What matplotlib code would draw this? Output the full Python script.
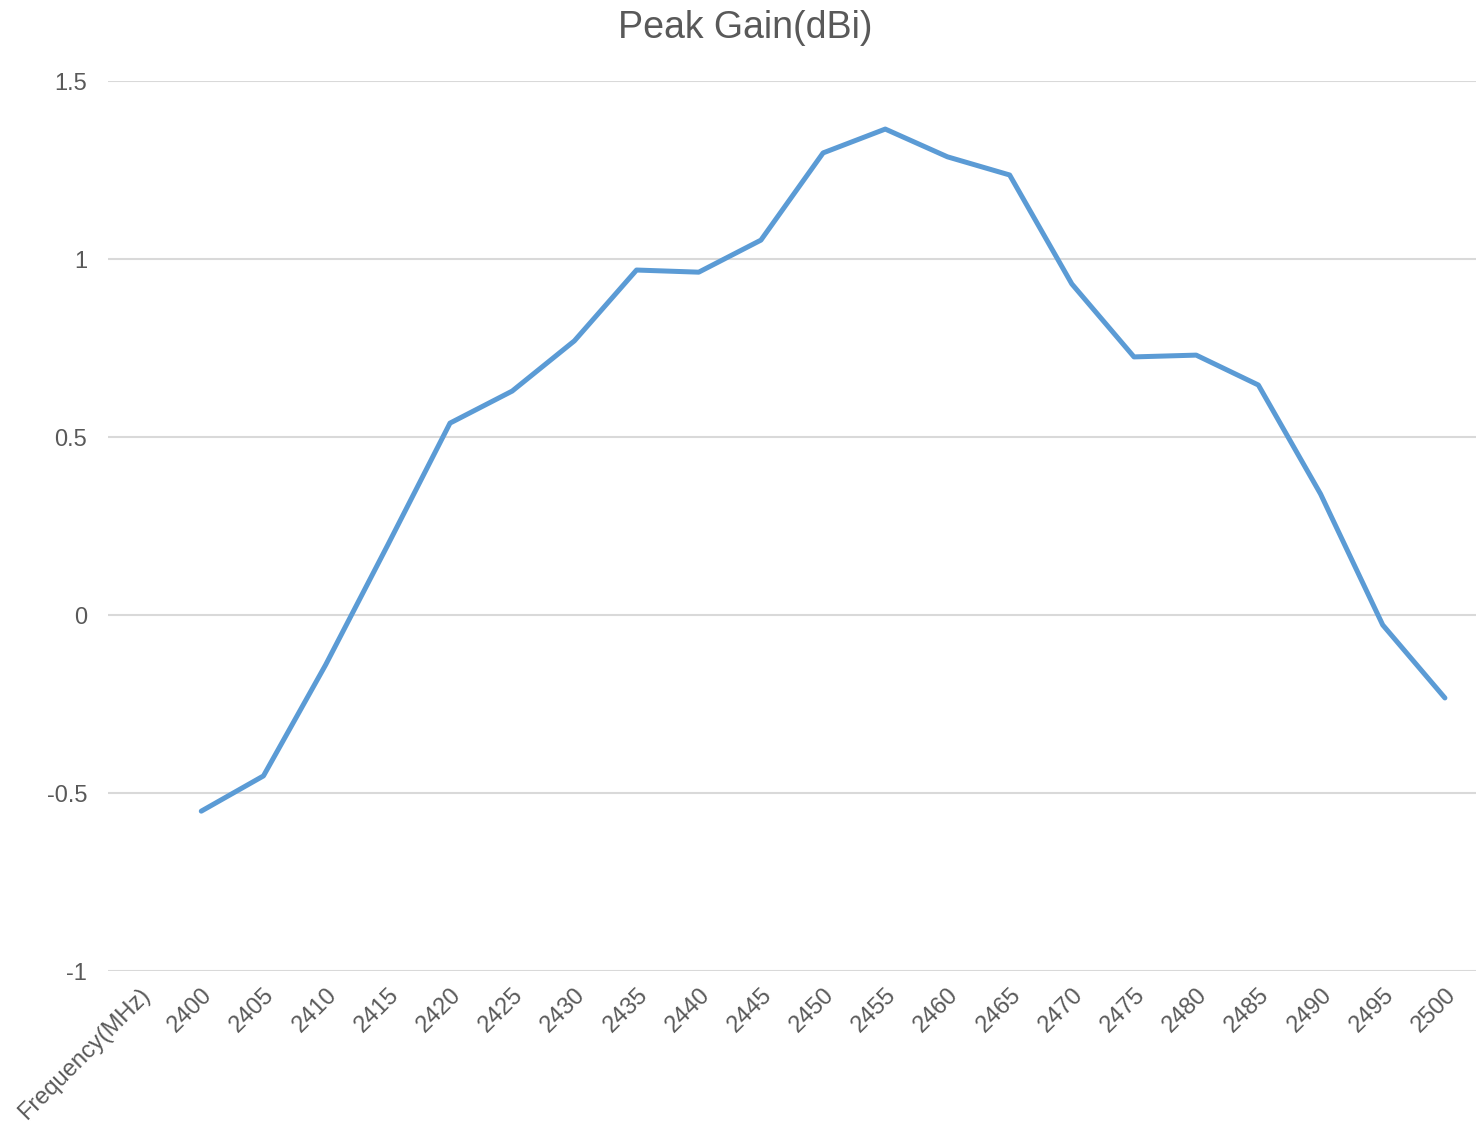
import matplotlib.pyplot as plt
import numpy as np

# Peak gain vs frequency, Excel-style line chart

categories = ["Frequency(MHz)", "2400", "2405", "2410", "2415", "2420", "2425",
              "2430", "2435", "2440", "2445", "2450", "2455", "2460", "2465",
              "2470", "2475", "2480", "2485", "2490", "2495", "2500"]
gain = [np.nan, -0.551, -0.452, -0.140, 0.197, 0.539, 0.629, 0.770, 0.969,
        0.963, 1.053, 1.298, 1.365, 1.287, 1.236, 0.930, 0.725, 0.730,
        0.646, 0.340, -0.028, -0.233]
yticks = [-1, -0.5, 0, 0.5, 1, 1.5]
ylabels = ["-1", "-0.5", "0", "0.5", "1", "1.5"]

plt.rcParams['font.family'] = ['Liberation Sans', 'DejaVu Sans']

fig = plt.figure(figsize=(14.81, 11.24), dpi=100)
ax = fig.add_axes([108 / 1481, 1 - 971 / 1124, (1476 - 108) / 1481, (971 - 81) / 1124])

x = np.arange(len(categories))
ax.plot(x, gain, color='#5b9bd5', linewidth=3.6, solid_capstyle='round',
        solid_joinstyle='round', zorder=3)

ax.set_xlim(-0.5, len(categories) - 0.5)
ax.set_ylim(-1, 1.5)
ax.set_yticks(yticks)
ax.set_yticklabels(ylabels)
ax.grid(axis='y', color='#d9d9d9', linewidth=1.5)
ax.set_axisbelow(True)
for s in ax.spines.values():
    s.set_visible(False)

ax.set_xticks(x)
ax.set_xticklabels(categories, rotation=45, ha='right', va='top',
                   rotation_mode='anchor')
ax.tick_params(axis='both', length=0, labelsize=17, colors='#595959')
ax.tick_params(axis='x', pad=9)
ax.tick_params(axis='y', pad=15)

fig.text(745 / 1481, 1 - 28 / 1124, "Peak Gain(dBi)", ha='center', va='center',
         fontsize=27, color='#595959')

fig.savefig("out.png", dpi=100)
